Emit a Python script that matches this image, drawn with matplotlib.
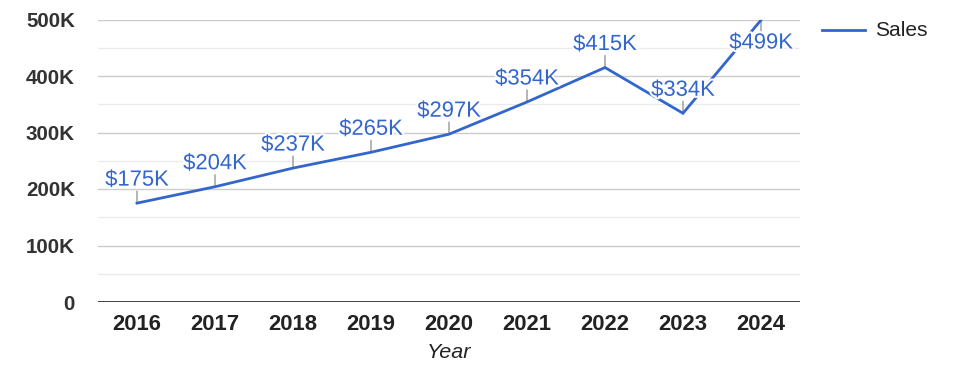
import matplotlib
matplotlib.use("Agg")
import matplotlib.pyplot as plt
import matplotlib.patheffects as pe

years = ["2016", "2017", "2018", "2019", "2020", "2021", "2022", "2023", "2024"]
sales = [175000, 204000, 237000, 265000, 297000, 354000, 415000, 334000, 499000]
labels = ["$175K", "$204K", "$237K", "$265K", "$297K", "$354K", "$415K", "$334K", "$499K"]
label_below = [False, False, False, False, False, False, False, False, True]
y_ticks = [0, 100000, 200000, 300000, 400000, 500000]
y_tick_labels = ["0", "100K", "200K", "300K", "400K", "500K"]
minor_ticks = [50000, 150000, 250000, 350000, 450000]

plt.rcParams['font.family'] = ['Liberation Sans', 'DejaVu Sans']
PX = 0.72  # points per pixel at dpi=100

fig = plt.figure(figsize=(9.75, 3.78), dpi=100)
ax = fig.add_axes([98/975, 1-302/378, 702/975, (302-19.5)/378])

blue = "#3366CC"
x = list(range(len(years)))
line, = ax.plot(x, sales, color=blue, lw=2, zorder=3, solid_joinstyle='miter', label="Sales")

ax.set_xlim(-0.5, len(years)-0.5)
ax.set_ylim(0, 500000)
ax.set_yticks(y_ticks)
ax.set_yticklabels(y_tick_labels, fontsize=20.5*PX, fontweight='bold', color="#333333")
ax.set_xticks(x)
ax.set_xticklabels(years, fontsize=22*PX, fontweight='bold', color="#222222")
ax.tick_params(axis='y', length=0, pad=23*PX)
ax.tick_params(axis='x', length=0, pad=12*PX)

for v in y_ticks[1:]:
    ax.axhline(v, color="#cccccc", lw=1, zorder=1)
for v in minor_ticks:
    ax.axhline(v, color="#ebebeb", lw=1, zorder=1)
ax.axhline(0, color="#333333", lw=1.3, zorder=2)

for s in ax.spines.values():
    s.set_visible(False)

for xi, v, lab, below in zip(x, sales, labels, label_below):
    sign = -1 if below else 1
    ax.annotate("", xy=(xi, v), xytext=(0, sign*12*PX), textcoords='offset points',
                arrowprops=dict(arrowstyle='-', color="#999999", lw=1, shrinkA=0, shrinkB=0),
                zorder=2)
    ax.annotate(lab, xy=(xi, v), xytext=(0, sign*23*PX), textcoords='offset points',
                ha='center', va='center', fontsize=22*PX, color=blue, zorder=4,
                path_effects=[pe.withStroke(linewidth=3, foreground='white')])

ax.set_xlabel("Year", fontsize=21.5*PX, style='italic', color="#222222", labelpad=6)

# legend
fig.lines.append(plt.Line2D([822/975, 865/975], [1-30/378, 1-30/378], color=blue, lw=2,
                            transform=fig.transFigure))
fig.text(875/975, 1-30/378, "Sales", fontsize=21*PX, color="#222222", va='center', ha='left')

fig.savefig("out.png", dpi=100)
